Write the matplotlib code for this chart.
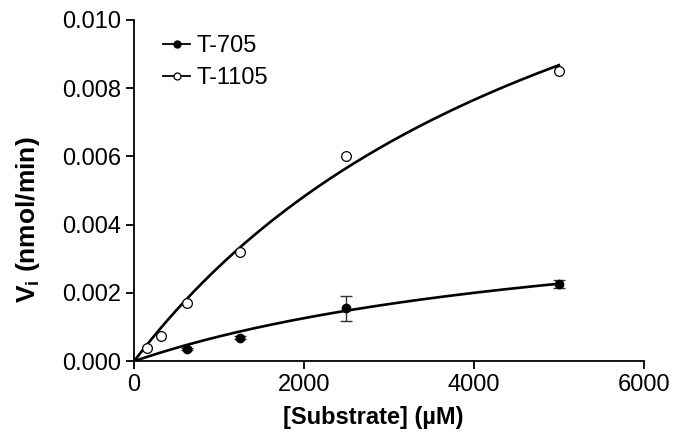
import numpy as np
import matplotlib
matplotlib.use("Agg")
import matplotlib.pyplot as plt

plt.rcParams['font.family'] = ['Liberation Sans', 'DejaVu Sans']
plt.rcParams['mathtext.fontset'] = 'custom'
plt.rcParams['mathtext.rm'] = 'Liberation Sans'
plt.rcParams['mathtext.bf'] = 'Liberation Sans:bold'

# Data
s_705 = [625, 1250, 2500, 5000]
v_705 = [0.00035, 0.00069, 0.00155, 0.00225]
e_705 = [0.00003, 0.00004, 0.00037, 0.00012]

s_1105 = [156, 312.5, 625, 1250, 2500, 5000]
v_1105 = [0.00040, 0.00073, 0.00169, 0.00320, 0.00600, 0.00851]

# Michaelis-Menten fit parameters
vmax_705, km_705 = 0.00487, 5730
vmax_1105, km_1105 = 0.01853, 5684

xticks = [0, 2000, 4000, 6000]
yticks = [0.000, 0.002, 0.004, 0.006, 0.008, 0.010]

fig = plt.figure(figsize=(6.77, 4.41), dpi=100)
ax = fig.add_axes([0.198, 0.181, 0.753, 0.774])

sfit = np.linspace(0, 5000, 300)
ax.plot(sfit, vmax_1105 * sfit / (km_1105 + sfit), color='black', lw=1.9, zorder=2)
ax.plot(sfit, vmax_705 * sfit / (km_705 + sfit), color='black', lw=1.9, zorder=2)

ax.errorbar(s_705, v_705, yerr=e_705, fmt='o', color='black', ms=6,
            ecolor='#333333', elinewidth=1, capsize=4, capthick=1, zorder=3)
ax.plot(s_1105, v_1105, 'o', mfc='white', mec='black', ms=7, mew=0.9, zorder=3)

# legend handles
h1, = ax.plot([], [], '-o', color='black', ms=5, lw=1.3)
h2, = ax.plot([], [], '-o', color='black', mfc='white', ms=5, lw=1.3, mew=0.9)
ax.legend([h1, h2], ['T-705', 'T-1105'], loc='upper left', bbox_to_anchor=(0.057, 0.955),
          frameon=False, fontsize=17, handlelength=1.15, handletextpad=0.28,
          labelspacing=0.41, borderpad=0, borderaxespad=0)

ax.set_xlim(0, 6000)
ax.set_ylim(0, 0.010)
ax.set_xticks(xticks)
ax.set_yticks(yticks)
ax.set_yticklabels([f"{v:.3f}" for v in yticks])
ax.tick_params(labelsize=17, length=6, width=1.3, direction='out', pad=3)
for sp in ['top', 'right']:
    ax.spines[sp].set_visible(False)
for sp in ['left', 'bottom']:
    ax.spines[sp].set_linewidth(1.3)

ax.set_xlabel('[Substrate] (µM)', fontsize=17, fontweight='bold')
ax.xaxis.set_label_coords(0.47, -0.13)
ax.set_ylabel(r'V$_\mathbf{i}$ (nmol/min)', fontsize=19, fontweight='bold')
ax.yaxis.set_label_coords(-0.18, 0.413)

fig.savefig('out.png', dpi=100)
